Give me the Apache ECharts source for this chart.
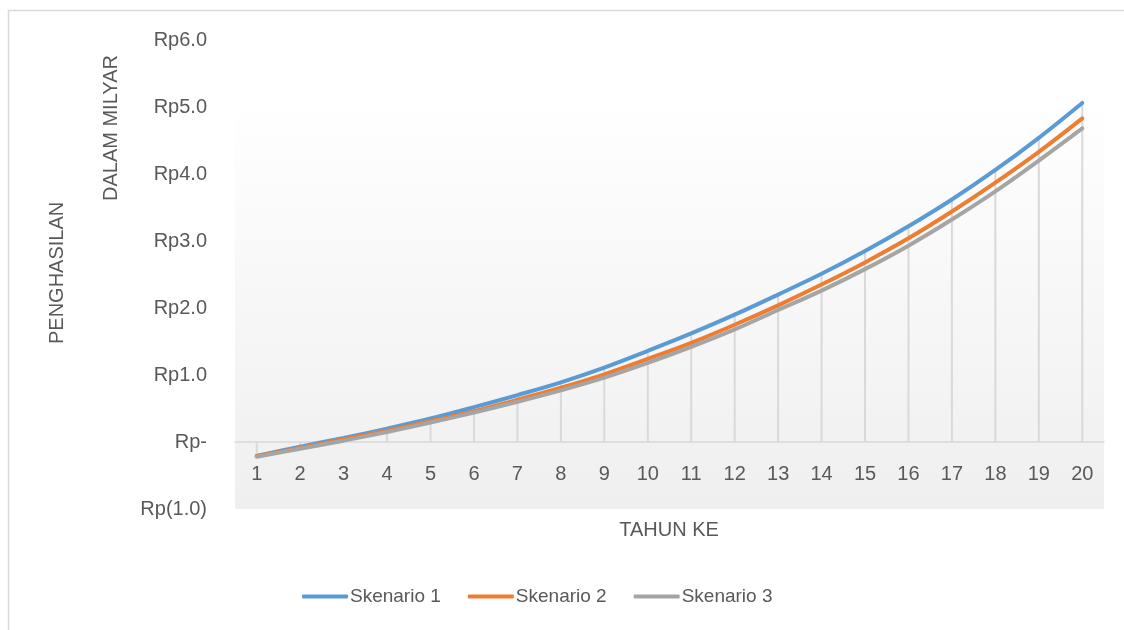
<!DOCTYPE html>
<html>
<head>
<meta charset="utf-8">
<script src="https://cdn.jsdelivr.net/npm/echarts@6/dist/echarts.min.js"></script>
<style>
  html, body { margin: 0; padding: 0; background: #ffffff; }
  #chart { width: 1124px; height: 630px; }
</style>
</head>
<body>
<div id="chart"></div>
<script>
// Years and projected income (in billions of rupiah) per scenario
const tahun = ['1','2','3','4','5','6','7','8','9','10','11','12','13','14','15','16','17','18','19','20'];
const skenario1 = [-0.21, -0.07, 0.06, 0.20, 0.35, 0.52, 0.70, 0.89, 1.11, 1.36, 1.62, 1.90, 2.20, 2.51, 2.85, 3.22, 3.62, 4.06, 4.54, 5.06];
const skenario2 = [-0.21, -0.09, 0.04, 0.17, 0.31, 0.46, 0.63, 0.81, 1.01, 1.24, 1.48, 1.75, 2.04, 2.35, 2.68, 3.04, 3.44, 3.87, 4.33, 4.83];
const skenario3 = [-0.22, -0.10, 0.02, 0.15, 0.29, 0.44, 0.60, 0.77, 0.96, 1.18, 1.42, 1.68, 1.97, 2.26, 2.58, 2.93, 3.32, 3.74, 4.20, 4.68];
const seriesNames = ['Skenario 1', 'Skenario 2', 'Skenario 3'];
const yTickValues = [-1, 0, 1, 2, 3, 4, 5, 6];

// Drop lines reach from the axis to the highest scenario in each year
const dropTop = tahun.map((_, i) => Math.max(skenario1[i], skenario2[i], skenario3[i]));

const FONT = '"Liberation Sans", "DejaVu Sans", sans-serif';
const TEXT = '#595959';

const GRID_TOP = 40, GRID_BOTTOM = 121, GRID_HEIGHT = 630 - GRID_TOP - GRID_BOTTOM;
const yMin = yTickValues[0], yMax = yTickValues[yTickValues.length - 1];
// Lift the category axis (line and labels) up to the zero level
const zeroOffset = -GRID_HEIGHT * (0 - yMin) / (yMax - yMin);

function rupiah(v) {
  if (v === 0) return 'Rp-';
  if (v < 0) return 'Rp(' + Math.abs(v).toFixed(1) + ')';
  return 'Rp' + v.toFixed(1);
}

const chart = echarts.init(document.getElementById('chart'), null, { renderer: 'canvas' });

chart.setOption({
  animation: false,
  backgroundColor: '#ffffff',
  textStyle: { fontFamily: FONT, color: TEXT },
  grid: {
    left: 235, right: 20, top: GRID_TOP, bottom: GRID_BOTTOM,
    show: true,
    borderWidth: 0,
    backgroundColor: {
      type: 'linear', x: 0, y: 0, x2: 0, y2: 1,
      colorStops: [
        { offset: 0, color: '#ffffff' },
        { offset: 0.12, color: '#ffffff' },
        { offset: 1, color: '#efefef' }
      ]
    }
  },
  graphic: [
    {
      type: 'rect', silent: true, z: -1,
      shape: { x: 8.5, y: 10.5, width: 1200, height: 700 },
      style: { fill: 'none', stroke: '#d9d9d9', lineWidth: 1.5 }
    },
    {
      type: 'text', silent: true,
      position: [47, 344],
      rotation: Math.PI / 2,
      style: { text: 'PENGHASILAN', font: '20px ' + FONT, fill: TEXT }
    },
    {
      type: 'text', silent: true,
      position: [101, 201],
      rotation: Math.PI / 2,
      style: { text: 'DALAM MILYAR', font: '20px ' + FONT, fill: TEXT }
    },
    {
      type: 'text', silent: true,
      position: [669, 530],
      style: { text: 'TAHUN KE', font: '20px ' + FONT, fill: TEXT, align: 'center', verticalAlign: 'middle' }
    }
  ],
  legend: {
    data: seriesNames,
    bottom: 19,
    left: 297,
    icon: 'roundRect',
    itemWidth: 46,
    itemHeight: 4,
    itemGap: 27,
    textStyle: { fontFamily: FONT, fontSize: 19, color: TEXT, padding: [0, 0, 0, -3] }
  },
  xAxis: {
    type: 'category',
    data: tahun,
    boundaryGap: true,
    offset: zeroOffset,
    axisLine: { show: true, onZero: false, lineStyle: { color: '#d9d9d9', width: 1.5 } },
    axisTick: { show: false },
    axisLabel: { fontFamily: FONT, fontSize: 20, color: TEXT, margin: 22 },
    splitLine: { show: false }
  },
  yAxis: {
    type: 'value',
    min: yMin,
    max: yMax,
    interval: 1,
    axisLine: { show: false },
    axisTick: { show: false },
    splitLine: { show: false },
    axisLabel: {
      fontFamily: FONT, fontSize: 20, color: TEXT, margin: 28,
      formatter: rupiah
    }
  },
  series: [
    {
      name: 'drop',
      type: 'bar',
      data: dropTop,
      barWidth: 2,
      silent: true,
      z: 1,
      itemStyle: { color: '#d9d9d9' }
    },
    {
      name: seriesNames[0], type: 'line', data: skenario1,
      smooth: 0.35, showSymbol: false, symbol: 'none', z: 3,
      lineStyle: { color: '#5b9bd5', width: 4, cap: 'round' },
      itemStyle: { color: '#5b9bd5' }
    },
    {
      name: seriesNames[1], type: 'line', data: skenario2,
      smooth: 0.35, showSymbol: false, symbol: 'none', z: 3,
      lineStyle: { color: '#ed7d31', width: 4, cap: 'round' },
      itemStyle: { color: '#ed7d31' }
    },
    {
      name: seriesNames[2], type: 'line', data: skenario3,
      smooth: 0.35, showSymbol: false, symbol: 'none', z: 3,
      lineStyle: { color: '#a5a5a5', width: 4, cap: 'round' },
      itemStyle: { color: '#a5a5a5' }
    }
  ]
});
</script>
</body>
</html>
